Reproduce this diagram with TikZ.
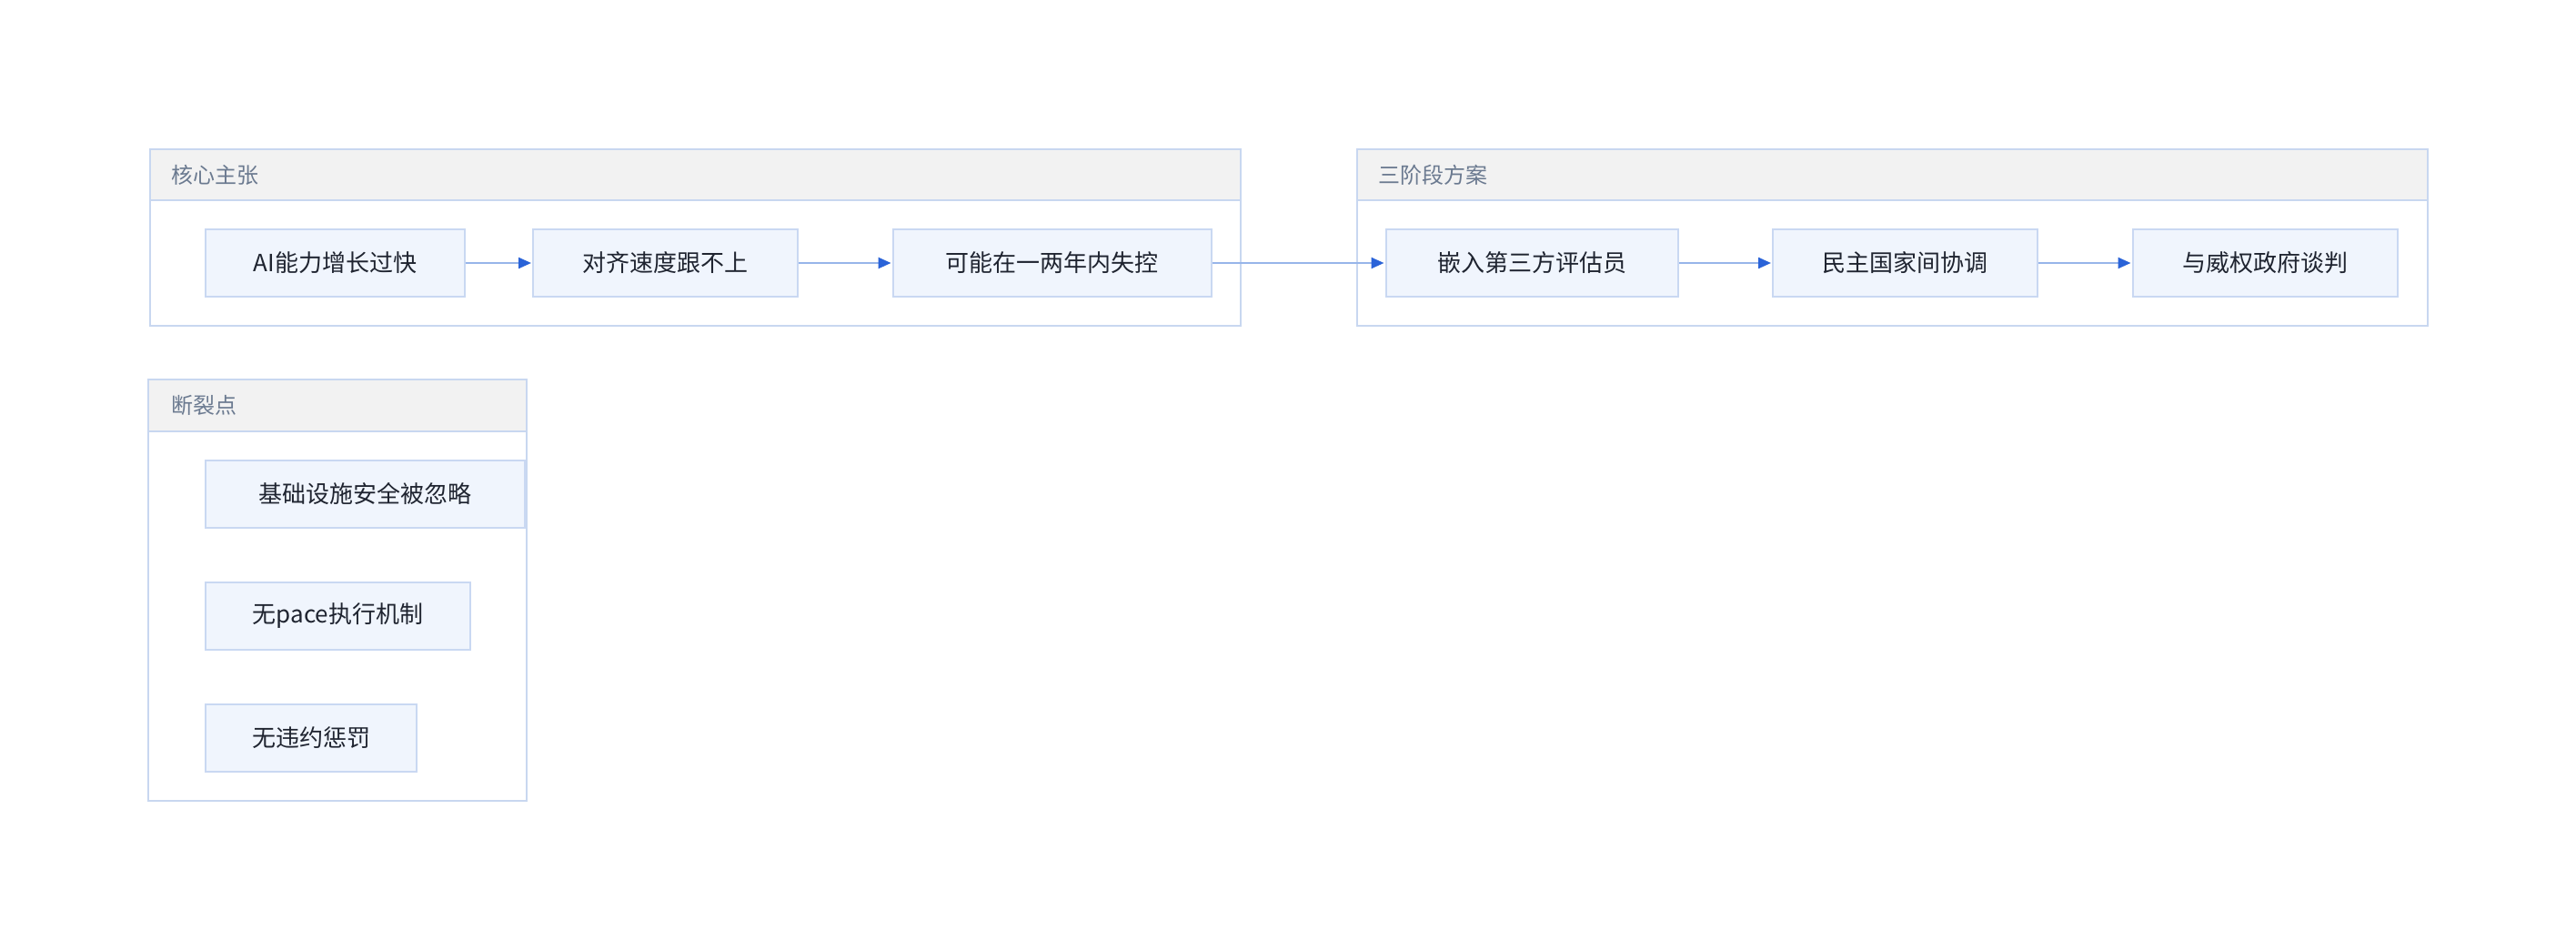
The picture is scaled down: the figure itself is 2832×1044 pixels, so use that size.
\documentclass[tikz,border=0pt]{standalone}
\usepackage{fontspec}
\setmainfont{Noto Sans CJK SC}
\usetikzlibrary{arrows.meta}
\definecolor{clborder}{HTML}{C8D7F0}
\definecolor{hdrfill}{HTML}{F2F2F2}
\definecolor{nodefill}{HTML}{F0F5FD}
\definecolor{nodeborder}{HTML}{C9D8F2}
\definecolor{hdrtext}{HTML}{6B7A90}
\definecolor{nodetext}{HTML}{1F2430}
\definecolor{edgeline}{HTML}{97B5EA}
\definecolor{edgehead}{HTML}{2A63D8}
\tikzset{
  clusterbox/.style={draw=clborder, line width=2pt, fill=white},
  headerbox/.style={draw=clborder, line width=2pt, fill=hdrfill},
  headertext/.style={anchor=west, inner sep=0pt, text=hdrtext, font=\fontsize{24}{28}\selectfont},
  stepbox/.style={draw=nodeborder, line width=2pt, fill=nodefill, inner sep=0pt,
    minimum height=74pt, text=nodetext, font=\fontsize{26}{30}\selectfont},
  flow/.style={draw=edgeline, line width=2.2pt,
    -{Triangle[length=14pt, width=12pt, color=edgehead]}, shorten >=1pt}
}
\begin{document}
\begin{tikzpicture}[x=1pt,y=-1pt]
\useasboundingbox (0,0) rectangle (2832,1044);
\fill[white] (0,0) rectangle (2832,1044);
% cluster 1
\draw[clusterbox] (165,164) rectangle (1364,358);
\draw[headerbox] (165,164) rectangle (1364,220);
\node[headertext] (h1) at (188,192) {核心主张};
% cluster 2
\draw[clusterbox] (1492,164) rectangle (2668.6,358);
\draw[headerbox] (1492,164) rectangle (2668.6,220);
\node[headertext] (h2) at (1515,192) {三阶段方案};
% cluster 3
\draw[clusterbox] (163.3,417.3) rectangle (579.3,880);
\draw[headerbox] (163.3,417.3) rectangle (579.3,474);
\node[headertext] (h3) at (188,445.6) {断裂点};
% nodes
\node[stepbox, minimum width=284.6pt] (n1) at (368.3,289) {AI能力增长过快};
\node[stepbox, minimum width=291pt] (n2) at (731.5,289) {对齐速度跟不上};
\node[stepbox, minimum width=350.4pt] (n3) at (1156.8,289) {可能在一两年内失控};
\node[stepbox, minimum width=321.8pt] (n4) at (1684.4,289) {嵌入第三方评估员};
\node[stepbox, minimum width=291pt] (n5) at (2094.5,289) {民主国家间协调};
\node[stepbox, minimum width=291.8pt] (n6) at (2490.4,289) {与威权政府谈判};
\node[stepbox, minimum width=351pt] (n7) at (401.2,543) {基础设施安全被忽略};
\node[stepbox, minimum width=291.6pt] (n8) at (371.5,677) {无pace执行机制};
\node[stepbox, minimum width=232.6pt] (n9) at (342,810.7) {无违约惩罚};
% edges
\draw[flow] (n1) -- (n2);
\draw[flow] (n2) -- (n3);
\draw[flow] (n3) -- (n4);
\draw[flow] (n4) -- (n5);
\draw[flow] (n5) -- (n6);
\end{tikzpicture}
\end{document}
